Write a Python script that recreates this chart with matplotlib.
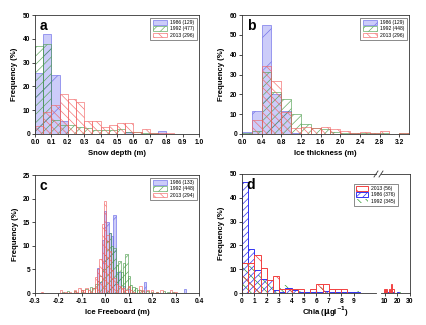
import numpy as np
import matplotlib
matplotlib.use("Agg")
import matplotlib.pyplot as plt
from matplotlib.patches import Patch

plt.rcParams['font.family'] = ['Liberation Sans', 'DejaVu Sans']
plt.rcParams['font.weight'] = 'bold'
plt.rcParams['hatch.linewidth'] = 0.5

# ---------------- data ----------------
# (a) snow depth, bins of 0.05 m from 0
snow_bin_w = 0.05
snow_1986 = [25.7, 42.0, 24.8, 5.5, 0, 0, 0, 0, 0, 0, 0, 0.7, 0, 0, 0, 1.4, 0]
snow_1992 = [37.0, 37.8, 6.0, 3.8, 3.9, 3.0, 2.5, 1.8, 1.5, 1.5, 2.0, 1.0, 0.8, 0.3, 0.3, 0.2, 0.2]
snow_2013 = [3.4, 9.4, 12.2, 16.7, 14.6, 13.3, 5.6, 5.6, 3.1, 3.8, 4.5, 4.5, 1.0, 2.3, 0.3, 0.3, 0.3]
snow_labels = ['1986 (129)', '1992 (477)', '2013 (296)']

# (b) ice thickness, bins of 0.2 m from 0
ice_bin_w = 0.2
ice_1986 = [1.0, 11.7, 55.0, 20.0, 11.7, 0.5, 0, 0, 0, 0, 0, 0, 0, 0, 0, 0, 0]
ice_1992 = [0.5, 1.5, 31.5, 21.0, 17.6, 10.0, 5.0, 3.0, 2.5, 1.0, 0.5, 0.5, 0.3, 0.3, 0.3, 0.2, 0.5]
ice_2013 = [0, 7.2, 34.3, 26.8, 11.0, 3.0, 3.7, 3.0, 3.3, 2.5, 1.3, 0.6, 0.8, 0.3, 1.3, 0.2, 0.5]
ice_labels = ['1986 (129)', '1992 (448)', '2013 (296)']

# (c) ice freeboard, bins of 0.01 m (bin centres)
fb_w = 0.01
fb_1986_x = [-0.03, -0.02, -0.01, 0.00, 0.01, 0.02, 0.03, 0.04, 0.05, 0.06, 0.08, 0.10, 0.17, 0.34]
fb_1986_y = [5.3, 2.3, 11.3, 17.3, 15.0, 12.8, 12.0, 16.5, 4.5, 4.5, 1.5, 0.8, 2.3, 0.8]
fb_1992_x = [-0.18, -0.16, -0.13, -0.10, -0.08, -0.06, -0.05, -0.04, -0.03, -0.02, -0.01, 0.00,
             0.01, 0.02, 0.03, 0.04, 0.05, 0.06, 0.07, 0.08, 0.09, 0.10, 0.11, 0.12, 0.13,
             0.14, 0.15, 0.16, 0.18, 0.20, 0.22, 0.25, 0.27, 0.29]
fb_1992_y = [0.2, 0.4, 0.4, 0.7, 0.9, 1.3, 1.0, 2.0, 2.5, 3.5, 5.0, 8.0,
             11.0, 12.8, 10.0, 9.5, 6.0, 6.8, 4.5, 6.3, 8.2, 3.5, 1.8, 1.3, 1.0,
             0.7, 0.6, 0.5, 0.4, 0.3, 0.3, 0.4, 0.3, 0.3]
fb_2013_x = [-0.27, -0.19, -0.17, -0.15, -0.13, -0.12, -0.11, -0.10, -0.09, -0.08, -0.07,
             -0.06, -0.05, -0.04, -0.03, -0.02, -0.01, 0.00, 0.01, 0.02, 0.03, 0.04,
             0.05, 0.06, 0.07, 0.08, 0.09, 0.10, 0.11, 0.12, 0.15, 0.16, 0.18, 0.20,
             0.22, 0.24, 0.28, 0.30]
fb_2013_y = [0.3, 0.7, 0.3, 0.3, 0.7, 0.3, 1.0, 0.7, 0.7, 1.0, 0.7,
             0.3, 1.0, 3.4, 5.1, 7.1, 14.6, 19.4, 12.2, 8.8, 4.8, 3.1,
             2.0, 1.4, 1.0, 1.0, 0.7, 1.4, 0.7, 0.3, 1.4, 0.7, 0.7, 0.7,
             0.3, 0.7, 0.7, 0.3]
fb_labels = ['1986 (133)', '1992 (448)', '2013 (294)']

# (d) Chla, bins of 0.5 up to 9.5, then bins of 1 from 9
chla_w = 0.5
chla_2013 = [12.5, 12.5, 16.1, 10.7, 5.4, 7.1, 1.8, 1.8, 1.8, 1.8, 0, 1.8, 3.6, 3.6, 1.8, 1.8, 1.8, 0, 0]
chla_1986 = [46.5, 18.6, 9.8, 6.0, 5.3, 1.1, 0.5, 2.1, 1.1, 0.5, 0.3, 0.3, 0.5, 0.8, 0.5, 0.3, 0.3, 0.3, 0.3]
chla_1992 = [12.0, 11.5, 7.5, 5.8, 4.5, 1.2, 3.5, 3.5, 1.5, 0.8, 0.5, 0.8, 2.7, 0.8, 0.5, 0.3, 0.3, 0.5, 0.8]
chla_r_w = 1.0
chla_r_x = [9, 10, 11, 12, 13, 14, 15, 16, 17, 18, 19, 20, 21, 22, 23, 24]
chla_2013_r = [1.8, 1.8, 1.8, 0, 1.8, 0, 3.6, 1.8, 0, 0, 0, 0, 0, 0, 0, 0]
chla_1986_r = [0, 0.3, 0.5, 0.3, 0, 0.3, 0, 0.3, 0, 0, 0, 0.3, 0, 0, 0, 0]
chla_1992_r = [1.2, 1.2, 1.0, 0.5, 0.3, 0, 0.5, 0.3, 0, 0, 0, 0.3, 0.3, 0.3, 0, 0.3]
chla_labels = ['2013 (56)', '1986 (376)', '1992 (345)']

# ---------------- styles ----------------
BLUE_FILL = (0.50, 0.50, 0.95, 0.40)
BLUE_EDGE = (0.40, 0.40, 0.90, 0.85)
GREEN = (0.30, 0.62, 0.30, 0.85)
RED = (0.95, 0.38, 0.38, 0.85)

style_blue = dict(facecolor=BLUE_FILL, edgecolor=BLUE_EDGE, linewidth=0.5, hatch='/')
style_green = dict(facecolor='none', edgecolor=GREEN, linewidth=0.5, hatch='////')
style_red = dict(facecolor='none', edgecolor=RED, linewidth=0.5, hatch='\\\\\\\\')

fig = plt.figure(figsize=(4.26, 3.25), dpi=100)
W, H = 426.0, 325.0


def add_ax(l, r, t, b):
    return fig.add_axes([l / W, (H - b) / H, (r - l) / W, (b - t) / H])


def style_ax(ax):
    for s in ax.spines.values():
        s.set_linewidth(0.6)
        s.set_color('#333333')
    ax.tick_params(direction='out', length=2, width=0.5, labelsize=4.8, pad=1.5)
    for lab in ax.get_xticklabels() + ax.get_yticklabels():
        lab.set_fontweight('bold')


def legend(where, handles, labels, loc='upper right', fs=3.6, bbox=None, hl=2.8, **kw):
    lg = where.legend(handles, labels, loc=loc, fontsize=fs, frameon=True, fancybox=False,
                      edgecolor='#333333', handlelength=hl, handleheight=1.0,
                      borderpad=0.5, labelspacing=0.25, handletextpad=0.6,
                      bbox_to_anchor=bbox, **kw)
    lg.get_frame().set_linewidth(0.5)
    for t in lg.get_texts():
        t.set_fontweight('normal')
    return lg


def edge_bars(ax, vals, w, start, style):
    x = start + w * np.arange(len(vals))
    ax.bar(x, vals, width=w, align='edge', **style)


def letter(ax, s):
    ax.text(0.03, 0.97, s, transform=ax.transAxes, ha='left', va='top',
            fontsize=10, fontweight='bold')


# ---- panel a ----
axa = add_ax(35, 199, 15, 134)
edge_bars(axa, snow_1986, snow_bin_w, 0, style_blue)
edge_bars(axa, snow_1992, snow_bin_w, 0, style_green)
edge_bars(axa, snow_2013, snow_bin_w, 0, style_red)
axa.set_xlim(0, 1.0)
axa.set_ylim(0, 50)
axa.set_xticks(np.arange(0, 1.01, 0.1))
axa.set_xticklabels([f'{v:.1f}' for v in np.arange(0, 1.01, 0.1)])
axa.set_yticks(np.arange(0, 51, 10))
axa.set_xlabel('Snow depth (m)', fontsize=5.6, fontweight='bold', labelpad=3)
axa.set_ylabel('Frequency (%)', fontsize=5.6, fontweight='bold', labelpad=3)
style_ax(axa)
letter(axa, 'a')
hs = [Patch(**style_blue), Patch(**style_green), Patch(**style_red)]
legend(axa, hs, snow_labels)

# ---- panel b ----
axb = add_ax(242, 409, 15, 134)
edge_bars(axb, ice_1986, ice_bin_w, 0, style_blue)
edge_bars(axb, ice_1992, ice_bin_w, 0, style_green)
edge_bars(axb, ice_2013, ice_bin_w, 0, style_red)
axb.set_xlim(0, 3.4)
axb.set_ylim(0, 60)
bt = np.arange(0, 3.21, 0.4)
axb.set_xticks(bt)
axb.set_xticklabels([f'{v:.1f}' for v in bt])
axb.set_yticks(np.arange(0, 61, 10))
axb.set_xlabel('Ice thickness (m)', fontsize=5.6, fontweight='bold', labelpad=3)
axb.set_ylabel('Frequency (%)', fontsize=5.6, fontweight='bold', labelpad=3)
style_ax(axb)
letter(axb, 'b')
legend(axb, hs, ice_labels)

# ---- panel c ----
axc = add_ax(35, 199, 175, 293)
axc.bar(fb_1986_x, fb_1986_y, width=fb_w, **style_blue)
axc.bar(fb_1992_x, fb_1992_y, width=fb_w, **style_green)
axc.bar(fb_2013_x, fb_2013_y, width=fb_w, **style_red)
axc.set_xlim(-0.3, 0.4)
axc.set_ylim(0, 25)
ct = np.arange(-0.3, 0.41, 0.1)
axc.set_xticks(ct)
axc.set_xticklabels([f'{v:.1f}' if abs(v) > 1e-9 else '0.0' for v in ct])
axc.set_yticks(np.arange(0, 26, 5))
axc.set_xlabel('Ice Freeboard (m)', fontsize=5.6, fontweight='bold', labelpad=3)
axc.set_ylabel('Frequency (%)', fontsize=5.6, fontweight='bold', labelpad=3)
style_ax(axc)
letter(axc, 'c')
legend(axc, hs, fb_labels)

# ---- panel d (broken x axis) ----
d_red = dict(facecolor='none', edgecolor=(0.95, 0.25, 0.25, 1.0), linewidth=0.7, hatch='\\')
d_blue = dict(facecolor='none', edgecolor=(0.2, 0.2, 0.95, 1.0), linewidth=0.7, hatch='/////')
d_green = dict(facecolor='none', edgecolor=(0.2, 0.6, 0.2, 1.0), linewidth=0.0, hatch='\\\\\\\\')

axd1 = add_ax(242, 376, 174, 293)
axd2 = add_ax(381, 410, 174, 293)
for ax_, xs, w, s13, s86, s92 in [
        (axd1, 0.0, chla_w, chla_2013, chla_1986, chla_1992),
        (axd2, chla_r_x[0], chla_r_w, chla_2013_r, chla_1986_r, chla_1992_r)]:
    edge_bars(ax_, s92, w, xs, d_green)
    edge_bars(ax_, s86, w, xs, d_blue)
    edge_bars(ax_, s13, w, xs, d_red)
    ax_.set_ylim(0, 50)

axd1.set_xlim(0, 10.8)
axd1.set_xticks(range(0, 10))
axd1.set_yticks(np.arange(0, 51, 10))
axd1.set_ylabel('Frequency (%)', fontsize=5.6, fontweight='bold', labelpad=3)
style_ax(axd1)
axd1.spines['right'].set_visible(False)

axd2.set_xlim(7.0, 30.2)
axd2.set_xticks([10, 20, 30])
axd2.set_yticks([])
style_ax(axd2)
axd2.spines['left'].set_visible(False)

# break marks (figure pixel coords)
for xb in (376, 381):
    fig.add_artist(plt.Line2D([(xb - 2) / W, (xb + 2) / W],
                              [(H - 177) / H, (H - 171) / H],
                              color='#333333', lw=0.6))

fig.text((242 + 410) / 2 / W, (H - 312) / H, r'Chla ($\mathbf{\mu}$gl$^{\mathbf{-1}}$)',
         ha='center', va='center', fontsize=5.6, fontweight='bold')
letter(axd1, 'd')
hd = [Patch(**d_red), Patch(**d_blue), Patch(**d_green)]
legend(fig, hd, chla_labels, loc='upper left', fs=3.6, hl=2.4,
       bbox=(351 / W, (H - 181) / H))

fig.savefig('out.png', dpi=100)
